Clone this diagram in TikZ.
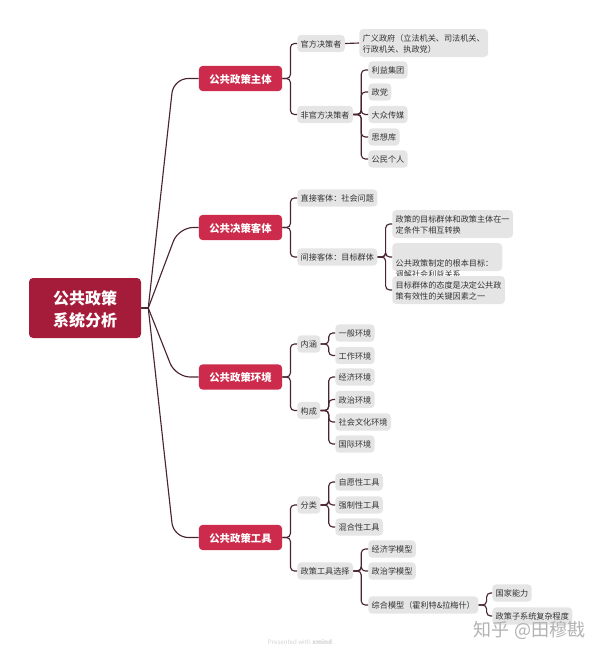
\documentclass[tikz,border=0pt]{standalone}
\usepackage{fontspec}
\setmainfont{Noto Sans CJK SC}
\definecolor{rootred}{HTML}{A51C3A}
\definecolor{mainred}{HTML}{CC2B4B}
\definecolor{leafgray}{HTML}{E5E5E5}
\definecolor{linkdark}{HTML}{4A2530}
\definecolor{textdark}{HTML}{333333}
\tikzset{
    rootnode/.style={fill=rootred,text=white,rounded corners=3pt,minimum width=84pt,minimum height=45pt,align=center,text height=29.2pt,text depth=1.4pt,font={\fontsize{12}{16.5}\selectfont\bfseries}},
    mainnode/.style={fill=mainred,text=white,rounded corners=3pt,minimum width=62.5pt,minimum height=19pt,inner sep=0pt,text height=8pt,text depth=1pt,font={\fontsize{7.8}{10}\selectfont\bfseries}},
    leaf/.style={fill=leafgray,text=textdark,anchor=west,rounded corners=3pt,minimum height=13pt,inner xsep=2.6pt,inner ysep=2.8pt,text height=6.2pt,text depth=.7pt,align=left,font={\fontsize{6.1}{8.5}\selectfont}},
    longleaf/.style={leaf,text height=14.7pt},
    rootlink/.style={linkdark,line width=.85pt,to path={(\tikztostart) -- ++(7,0) [rounded corners=11pt] -- ([xshift=#1]\tikztotarget) -- (\tikztotarget)}},
    branch/.style={linkdark,line width=.85pt,rounded corners=3pt,to path={(\tikztostart) -- ++(#1,0) |- (\tikztotarget)}},
    branch/.default=8
}
\begin{document}
\begin{tikzpicture}[x=.75pt,y=-.75pt]
    \useasboundingbox (0,0) rectangle (600,654);
    \node[rootnode] at (85,308) (root) {公共政策\\系统分析};
    % first level
    \foreach \n/\y/\t/\s in {1/78.5/公共政策主体/-25,2/227.5/公共决策客体/-20,3/377/公共政策环境/-23,4/537.5/公共政策工具/-25}{
        \node[mainnode] at (240.5,\y) (m\n) {\t};
        \draw[rootlink=\s pt*.75] (root.east) to (m\n.west);
    }
    % second level
    \foreach \m/\k/\y/\t in {1/1/43.5/官方决策者,1/2/114.5/非官方决策者,2/1/198/直接客体：社会问题,2/2/257/间接客体：目标群体,3/1/344/内涵,3/2/410.5/构成,4/1/505/分类,4/2/571/政策工具选择}{
        \node[leaf] at (297,\y) (m\m\k) {\t};
        \draw[branch] (m\m.east) to (m\m\k.west);
    }
    % third level
    \node[longleaf] at (359,43) (gov) {广义政府（立法机关、司法机关、\\行政机关、执政党）};
    \draw[linkdark,line width=.85pt] (m11.east) -- (gov.west);
    \foreach \y/\t [count=\n] in {70/利益集团,92/政党,114.5/大众传媒,137/思想库,159/公民个人}{
        \node[leaf] at (368,\y) (a\n) {\t};
        \draw[branch] (m12.east) to (a\n.west);
    }
    \node[longleaf] at (392,224) (b1) {政策的目标群体和政策主体在一\\定条件下相互转换};
    \node[longleaf,text width=77.3pt] at (392,257) (b2) {公共政策制定的根本目标：\\调解社会利益关系};
    \node[longleaf] at (392,290) (b3) {目标群体的态度是决定公共政\\策有效性的关键因素之一};
    \foreach \n in {1,2,3}{
        \draw[branch] (m22.east) to (b\n.west);
    }
    \foreach \y/\t [count=\n] in {333/一般环境,355.5/工作环境}{
        \node[leaf] at (335,\y) (c\n) {\t};
        \draw[branch] (m31.east) to (c\n.west);
    }
    \foreach \y/\t [count=\n] in {377/经济环境,399.5/政治环境,422/社会文化环境,444/国际环境}{
        \node[leaf] at (335,\y) (d\n) {\t};
        \draw[branch] (m32.east) to (d\n.west);
    }
    \foreach \y/\t [count=\n] in {482/自愿性工具,505/强制性工具,527/混合性工具}{
        \node[leaf] at (335,\y) (e\n) {\t};
        \draw[branch] (m41.east) to (e\n.west);
    }
    \foreach \y/\t [count=\n] in {549/经济学模型,571/政治学模型,605/综合模型（霍利特\&拉梅什）}{
        \node[leaf] at (368,\y) (f\n) {\t};
        \draw[branch] (m42.east) to (f\n.west);
    }
    \foreach \y/\t [count=\n] in {593/国家能力,616/政策子系统复杂程度}{
        \node[leaf] at (492,\y) (g\n) {\t};
        \draw[branch] (f3.east) to (g\n.west);
    }
    % marks at the bottom
    \node[text=gray!60,font={\fontsize{13.5}{15}\selectfont}] at (529.5,630) (mark) {知乎 @田穆戡};
    \node[text=gray!35,font={\fontsize{4.6}{6}\selectfont}] at (300,642) (made) {Presented with \textbf{xmind}};
\end{tikzpicture}
\end{document}
